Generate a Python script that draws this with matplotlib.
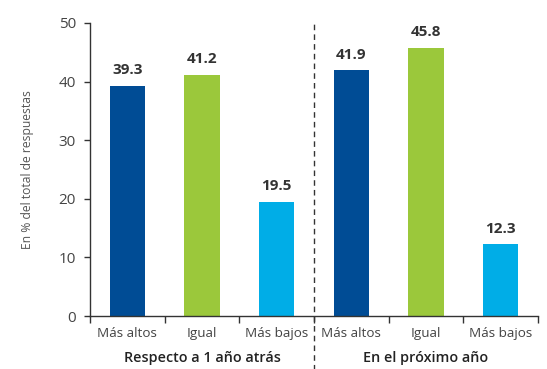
import matplotlib
matplotlib.use("Agg")
import matplotlib.pyplot as plt
from matplotlib.transforms import blended_transform_factory

plt.rcParams['font.family'] = ['Open Sans', 'DejaVu Sans']

categories = ["Más altos", "Igual", "Más bajos", "Más altos", "Igual", "Más bajos"]
values = [39.3, 41.2, 19.5, 41.9, 45.8, 12.3]
groups = ["Respecto a 1 año atrás", "En el próximo año"]
yticks = [0, 10, 20, 30, 40, 50]
colors = ["#004C95", "#9BC83B", "#00ADE7"] * 2

fig = plt.figure(figsize=(5.47, 3.69), dpi=100)
ax = fig.add_axes([90 / 547, 53 / 369, 448 / 547, 293 / 369])

x = list(range(len(values)))
ax.bar(x, values, width=0.47, color=colors, zorder=2)

for xi, v in zip(x, values):
    ax.annotate(f"{v:.1f}", (xi, v), xytext=(0, 6), textcoords="offset points",
                ha="center", va="bottom", fontsize=11, fontweight="bold", color="#333333")

ax.set_xlim(-0.5, 5.5)
ax.set_ylim(0, 50)
ax.set_yticks(yticks)
ax.set_yticklabels([str(t) for t in yticks])

# boundary ticks between categories, labels at category centres
ax.set_xticks([i - 0.5 for i in range(7)])
ax.set_xticklabels([])
ax.set_xticks(x, minor=True)
ax.set_xticklabels(categories, minor=True)
ax.tick_params(axis="x", which="major", length=5, width=1, color="#333333", direction="out")
ax.tick_params(axis="x", which="minor", length=0, pad=8, labelsize=9.7, labelcolor="#444444")
ax.tick_params(axis="y", length=4, width=1, color="#333333", pad=6, labelsize=11, labelcolor="#444444")

for s in ["top", "right"]:
    ax.spines[s].set_visible(False)
for s in ["left", "bottom"]:
    ax.spines[s].set_color("#333333")
    ax.spines[s].set_linewidth(1)

ax.set_ylabel("En % del total de respuestas", fontsize=8.7, color="#555555", labelpad=18)

trans = blended_transform_factory(ax.transData, ax.transAxes)
ax.plot([2.5, 2.5], [-0.19, 1.01], transform=trans, clip_on=False,
        color="#333333", linewidth=1, linestyle=(0, (4, 3)))

for i, g in enumerate(groups):
    ax.text(1 + 3 * i, -0.145, g, transform=trans, ha="center", va="center",
            fontsize=10.4, fontweight="semibold", color="#222222")

fig.savefig("out.png", dpi=100)
